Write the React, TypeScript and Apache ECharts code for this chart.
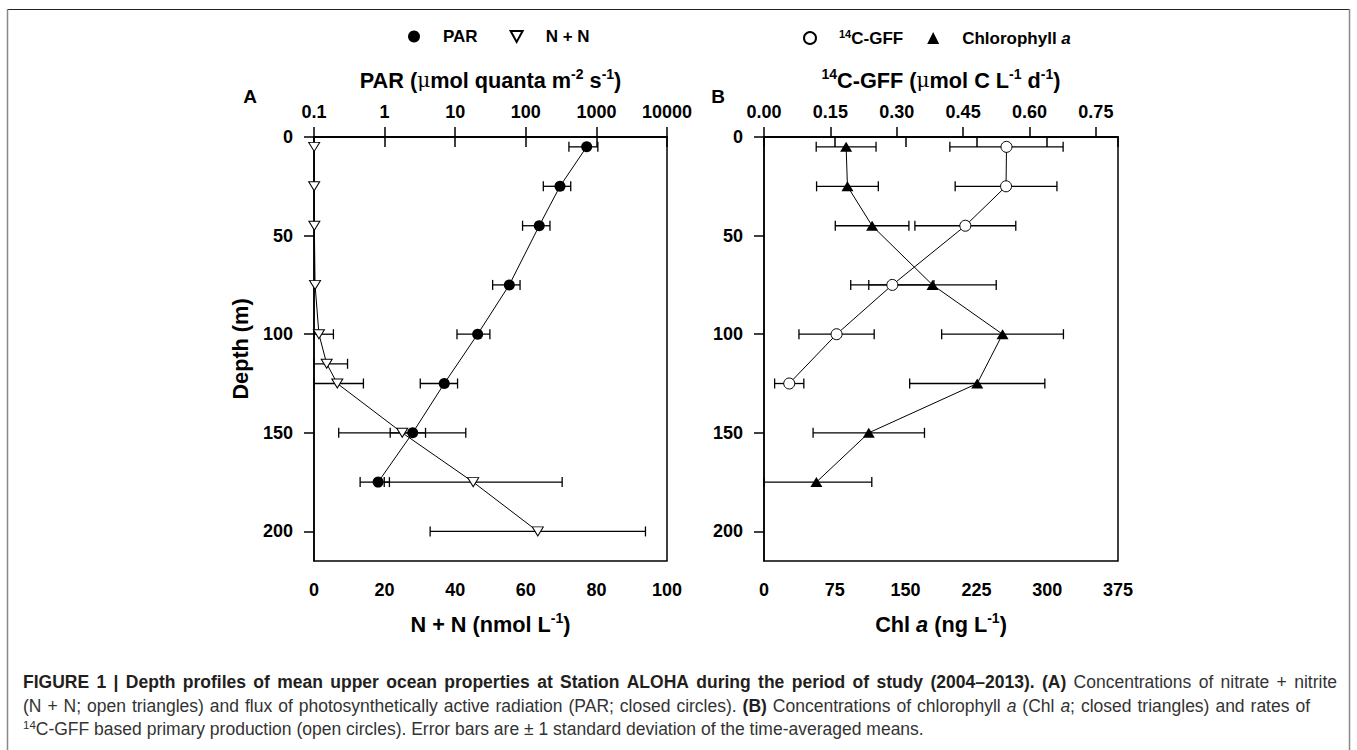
import React, { useEffect, useRef } from "react";
import * as echarts from "echarts";

// ---------- data ----------
const depthTicks = [0, 50, 100, 150, 200];

// Panel A: PAR (closed circles, top log axis)
const parDepths = [5, 25, 45, 75, 100, 125, 150, 175];
const parMean = [728, 305, 155, 58.4, 20.8, 7.0, 2.5, 0.81];
const parSD = [320, 128, 65, 24.5, 10.2, 3.8, 1.3, 0.36];

// Panel A: N + N (open triangles, bottom axis)
const nnDepths = [5, 25, 45, 75, 100, 115, 125, 150, 175, 200];
const nnMean = [0.05, 0.05, 0.1, 0.3, 1.4, 3.6, 6.6, 25.0, 45.1, 63.4];
const nnSD = [0, 0, 0, 0, 4.1, 5.9, 7.4, 18.0, 25.2, 30.5];

// Panel B: 14C-GFF (open circles, top axis)
const gffDepths = [5, 25, 45, 75, 100, 125];
const gffMean = [0.548, 0.547, 0.455, 0.29, 0.164, 0.057];
const gffSD = [0.128, 0.115, 0.114, 0.094, 0.085, 0.033];

// Panel B: Chlorophyll a (closed triangles, bottom axis)
const chlDepths = [5, 25, 45, 75, 100, 125, 150, 175];
const chlMean = [87, 88.4, 114.5, 178.5, 252.7, 225.9, 111, 55.5];
const chlSD = [31.7, 32.7, 39, 67.5, 64.5, 71.6, 59, 58.7];

const nnTicks = [0, 20, 40, 60, 80, 100];
const parTicks = [0.1, 1, 10, 100, 1000, 10000];
const chlTicks = [0, 75, 150, 225, 300, 375];
const gffTicks = [0, 0.15, 0.3, 0.45, 0.6, 0.75];

// caption lines: [style, text] fragments
const captionLines: [string, string][][] = [
  [
    ["b", "FIGURE 1 | Depth profiles of mean upper ocean properties at Station ALOHA during the period of study (2004–2013). (A)"],
    ["r", " Concentrations of nitrate + nitrite"],
  ],
  [
    ["r", "(N + N; open triangles) and flux of photosynthetically active radiation (PAR; closed circles). "],
    ["b", "(B)"],
    ["r", " Concentrations of chlorophyll "],
    ["i", "a"],
    ["r", " (Chl "],
    ["i", "a"],
    ["r", "; closed triangles) and rates of"],
  ],
  [
    ["sup", "14"],
    ["r", "C-GFF based primary production (open circles). Error bars are ± 1 standard deviation of the time-averaged means."],
  ],
];
const captionTargets = [1337, 1310, 0];

const FONT = "'Liberation Sans', Arial, Helvetica, sans-serif";
const CAP = 17.5;
const CAP_SUP = 11.5;
const CAP_X = 23;
const CAP_Y = [682, 706, 729];

function errorSeries(
  name: string,
  xAxisIndex: number,
  yAxisIndex: number,
  depths: number[],
  mean: number[],
  sd: number[],
  floor: number
) {
  const data = depths
    .map((d, i) => [Math.max(floor, mean[i] - sd[i]), mean[i] + sd[i], d, sd[i]])
    .filter((r) => r[3] > 0);
  return {
    type: "custom",
    name,
    xAxisIndex,
    yAxisIndex,
    silent: true,
    z: 2,
    encode: { x: [0, 1], y: 2 },
    renderItem: (_params: any, api: any) => {
      const lo = api.coord([api.value(0), api.value(2)]);
      const hi = api.coord([api.value(1), api.value(2)]);
      const h = 5;
      const style = { stroke: "#000", lineWidth: 1.3, fill: null };
      return {
        type: "group",
        children: [
          { type: "line", shape: { x1: lo[0], y1: lo[1], x2: hi[0], y2: hi[1] }, style },
          { type: "line", shape: { x1: lo[0], y1: lo[1] - h, x2: lo[0], y2: lo[1] + h }, style },
          { type: "line", shape: { x1: hi[0], y1: hi[1] - h, x2: hi[0], y2: hi[1] + h }, style },
        ],
      };
    },
    data,
  };
}

function pairs(depths: number[], vals: number[]) {
  return depths.map((d, i) => [vals[i], d]);
}

const capFont: Record<string, string> = {
  b: `bold ${CAP}px 'Liberation Sans'`,
  r: `normal ${CAP}px 'Liberation Sans'`,
  i: `italic ${CAP}px 'Liberation Sans'`,
  sup: `normal ${CAP_SUP}px 'Liberation Sans'`,
};

const capRich = {
  b: { fontFamily: FONT, fontWeight: "bold", fontSize: CAP, lineHeight: 21, fill: "#231f20" },
  r: { fontFamily: FONT, fontWeight: "normal", fontSize: CAP, lineHeight: 21, fill: "#333" },
  i: { fontFamily: FONT, fontStyle: "italic", fontSize: CAP, lineHeight: 21, fill: "#333" },
  sup: { fontFamily: FONT, fontSize: CAP_SUP, lineHeight: 12, verticalAlign: "top", fill: "#333" },
};

function buildCaption(): any[] {
  const canvas = document.createElement("canvas");
  const ctx = canvas.getContext("2d")!;
  const measure = (s: string, t: string) => {
    ctx.font = capFont[s];
    return ctx.measureText(t).width;
  };
  const out: any[] = [];
  captionLines.forEach((frags, li) => {
    const words: [string, string][][] = [];
    let cur: [string, string][] = [];
    frags.forEach(([s, t]) => {
      const parts = t.split(" ");
      parts.forEach((p, j) => {
        if (j > 0) {
          if (cur.length) words.push(cur);
          cur = [];
        }
        if (p) cur.push([s, p]);
      });
    });
    if (cur.length) words.push(cur);
    const widths = words.map((w) => w.reduce((a, [s, t]) => a + measure(s, t), 0));
    const space = measure("r", " ");
    const natural = widths.reduce((a, b) => a + b, 0) + space * (words.length - 1);
    const target = captionTargets[li];
    let gap = space;
    if (target > 0 && CAP_X + natural < target) gap = space + (target - CAP_X - natural) / (words.length - 1);
    let x = CAP_X;
    words.forEach((w, wi) => {
      out.push({
        type: "text",
        x,
        y: CAP_Y[li],
        style: {
          text: w.map(([s, t]) => `{${s}|${t}}`).join(""),
          rich: capRich,
          align: "left",
          verticalAlign: "middle",
          fontFamily: FONT,
          fontSize: CAP,
          fill: "#333",
        },
      });
      x += widths[wi] + gap;
    });
  });
  return out;
}

const axisLabelFont = { fontFamily: FONT, fontWeight: "bold", fontSize: 18, color: "#000" };
const axisLineStyle = { show: true, lineStyle: { color: "#000", width: 1.5 } };
const tickStyle = { show: true, length: 10, lineStyle: { color: "#000", width: 1.5 } };

export default function App() {
  const ref = useRef<HTMLDivElement>(null);
  useEffect(() => {
    document.body.style.margin = "0";
    document.body.style.overflow = "hidden";
    const chart = echarts.init(ref.current!, null, { renderer: "svg" });

    const TF = 21.7;
    const titleRich = {
      sup: { fontFamily: FONT, fontWeight: "bold", fontSize: 14, lineHeight: 14, verticalAlign: "top", fill: "#000" },
      mu: { fontFamily: "'DejaVu Serif', serif", fontWeight: "normal", fontSize: 20, lineHeight: 27, fill: "#000" },
      i: { fontFamily: FONT, fontWeight: "bold", fontStyle: "italic", fontSize: TF, lineHeight: 27, fill: "#000" },
    };
    const titleStyle = (text: string, x: number, y: number) => ({
      type: "text",
      x,
      y,
      style: {
        text,
        fontFamily: FONT,
        fontWeight: "bold",
        fontSize: TF,
        lineHeight: 27,
        fill: "#000",
        align: "center",
        verticalAlign: "middle",
        rich: titleRich,
      },
    });

    const option: any = {
      animation: false,
      backgroundColor: "#fff",
      legend: [
        {
          data: ["PAR", "N + N"],
          left: 408,
          top: 28,
          padding: 0,
          itemWidth: 12,
          itemHeight: 12,
          itemGap: 32,
          textStyle: { fontFamily: FONT, fontWeight: "bold", fontSize: 17, color: "#000", padding: [0, 0, 0, 18] },
        },
        {
          data: ["14C-GFF", "Chlorophyll a"],
          left: 803,
          top: 28,
          padding: 0,
          itemWidth: 12,
          itemHeight: 12,
          itemGap: 24,
          formatter: (name: string) =>
            name === "14C-GFF" ? "{sup|14}{b|C-GFF}" : "{b|Chlorophyll }{i|a}",
          textStyle: {
            fontFamily: FONT,
            fontWeight: "bold",
            fontSize: 17,
            color: "#000",
            padding: [0, 0, 0, 18],
            rich: {
              b: { fontFamily: FONT, fontWeight: "bold", fontSize: 17, lineHeight: 20, color: "#000" },
              i: { fontFamily: FONT, fontWeight: "bold", fontStyle: "italic", fontSize: 17, lineHeight: 20, color: "#000" },
              sup: { fontFamily: FONT, fontWeight: "bold", fontSize: 11, lineHeight: 11, verticalAlign: "top", color: "#000" },
            },
          },
        },
      ],
      grid: [
        { left: 314, top: 137, width: 353, height: 424, show: true, borderColor: "#000", borderWidth: 1.5, backgroundColor: "transparent" },
        { left: 764, top: 137, width: 354, height: 424, show: true, borderColor: "#000", borderWidth: 1.5, backgroundColor: "transparent" },
      ],
      xAxis: [
        {
          gridIndex: 0, type: "value", position: "bottom", min: nnTicks[0], max: nnTicks[nnTicks.length - 1], interval: 20,
          axisLine: axisLineStyle, axisTick: tickStyle, splitLine: { show: false },
          axisLabel: { ...axisLabelFont, margin: 20 },
        },
        {
          gridIndex: 0, type: "log", logBase: 10, position: "top", min: parTicks[0], max: parTicks[parTicks.length - 1],
          axisLine: axisLineStyle, axisTick: { ...tickStyle, customValues: parTicks }, splitLine: { show: false },
          axisLabel: { ...axisLabelFont, margin: 16, customValues: parTicks, formatter: (v: number) => String(Number(v.toPrecision(6))) },
        },
        {
          gridIndex: 1, type: "value", position: "bottom", min: chlTicks[0], max: chlTicks[chlTicks.length - 1], interval: 75,
          axisLine: axisLineStyle, axisTick: tickStyle, splitLine: { show: false },
          axisLabel: { ...axisLabelFont, margin: 20 },
        },
        {
          gridIndex: 1, type: "value", position: "top", min: 0, max: 0.8,
          axisLine: axisLineStyle, axisTick: { ...tickStyle, customValues: gffTicks }, splitLine: { show: false },
          axisLabel: { ...axisLabelFont, margin: 16, customValues: gffTicks, formatter: (v: number) => v.toFixed(2) },
        },
      ],
      yAxis: [0, 1].map((g) => ({
        gridIndex: g, type: "value", inverse: true, min: 0, max: 215,
        axisLine: axisLineStyle, axisTick: { ...tickStyle, customValues: depthTicks }, splitLine: { show: false },
        axisLabel: { ...axisLabelFont, margin: 21, customValues: depthTicks },
      })),
      series: [
        errorSeries("parErr", 1, 0, parDepths, parMean, parSD, 0.1),
        errorSeries("nnErr", 0, 0, nnDepths, nnMean, nnSD, 0),
        errorSeries("gffErr", 3, 1, gffDepths, gffMean, gffSD, 0),
        errorSeries("chlErr", 2, 1, chlDepths, chlMean, chlSD, 0),
        { type: "line", name: "parLine", xAxisIndex: 1, yAxisIndex: 0, data: pairs(parDepths, parMean), symbol: "none", lineStyle: { color: "#000", width: 1 }, z: 3, silent: true },
        { type: "line", name: "nnLine", xAxisIndex: 0, yAxisIndex: 0, data: pairs(nnDepths, nnMean), symbol: "none", lineStyle: { color: "#000", width: 1 }, z: 3, silent: true },
        { type: "line", name: "gffLine", xAxisIndex: 3, yAxisIndex: 1, data: pairs(gffDepths, gffMean), symbol: "none", lineStyle: { color: "#000", width: 1 }, z: 3, silent: true },
        { type: "line", name: "chlLine", xAxisIndex: 2, yAxisIndex: 1, data: pairs(chlDepths, chlMean), symbol: "none", lineStyle: { color: "#000", width: 1 }, z: 3, silent: true },
        {
          type: "scatter", name: "PAR", xAxisIndex: 1, yAxisIndex: 0, data: pairs(parDepths, parMean),
          symbol: "circle", symbolSize: 11, itemStyle: { color: "#000", opacity: 1 }, z: 4,
        },
        {
          type: "scatter", name: "N + N", xAxisIndex: 0, yAxisIndex: 0, data: pairs(nnDepths, nnMean),
          symbol: "path://M0,0L10,0L5,9Z", symbolSize: [11, 9], itemStyle: { color: "#fff", borderColor: "#000", borderWidth: 1, opacity: 1 }, z: 4,
        },
        {
          type: "scatter", name: "14C-GFF", xAxisIndex: 3, yAxisIndex: 1, data: pairs(gffDepths, gffMean),
          symbol: "circle", symbolSize: 11, itemStyle: { color: "#fff", borderColor: "#000", borderWidth: 1, opacity: 1 }, z: 4,
        },
        {
          type: "scatter", name: "Chlorophyll a", xAxisIndex: 2, yAxisIndex: 1, data: pairs(chlDepths, chlMean),
          symbol: "triangle", symbolSize: [12, 10], itemStyle: { color: "#000", opacity: 1 }, z: 4,
        },
      ],
      graphic: [
        // figure frame
        { type: "line", shape: { x1: 8, y1: 9.5, x2: 1349, y2: 9.5 }, style: { stroke: "#222", lineWidth: 1.2 } },
        { type: "line", shape: { x1: 7.5, y1: 9, x2: 7.5, y2: 750 }, style: { stroke: "#888", lineWidth: 1.5 } },
        { type: "line", shape: { x1: 1349.5, y1: 9, x2: 1349.5, y2: 750 }, style: { stroke: "#888", lineWidth: 1.5 } },
        // panel letters
        { type: "text", x: 250, y: 96, style: { text: "A", fontFamily: FONT, fontWeight: "bold", fontSize: 19, fill: "#000", align: "center", verticalAlign: "middle" } },
        { type: "text", x: 718, y: 96, style: { text: "B", fontFamily: FONT, fontWeight: "bold", fontSize: 19, fill: "#000", align: "center", verticalAlign: "middle" } },
        // axis titles
        titleStyle("PAR ({mu|μ}mol quanta m{sup|-2} s{sup|-1})", 490.5, 80),
        titleStyle("{sup|14}C-GFF ({mu|μ}mol C L{sup|-1} d{sup|-1})", 941, 80),
        titleStyle("N + N (nmol L{sup|-1})", 490.5, 624),
        titleStyle("Chl {i|a} (ng L{sup|-1})", 941, 624),
        { ...titleStyle("Depth (m)", 240, 349), rotation: Math.PI / 2 },
        // caption
        ...buildCaption(),
      ],
    };
    chart.setOption(option);
    return () => chart.dispose();
  }, []);
  return <div ref={ref} style={{ width: 1357, height: 750 }} />;
}
